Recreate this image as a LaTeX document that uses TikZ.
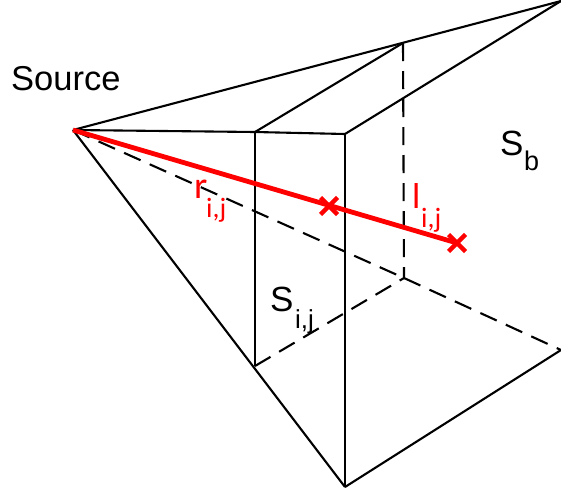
\documentclass[tikz,border=0pt]{standalone}
\usepackage{fontspec}
\setmainfont{Liberation Sans}
\newfontfamily\redfont{Carlito}
\tikzset{
  edge/.style={draw=black,line width=2.1pt,line join=miter},
  hidden/.style={draw=black,line width=2.1pt,dash pattern=on 18pt off 10pt},
  ray/.style={draw=red,line width=4.8pt},
  crossmark/.style={draw=red,line width=4.4pt},
  blacklabel/.style={inner sep=0pt,anchor=base west,text=black},
  redlabel/.style={inner sep=0pt,anchor=base west,text=red},
}
\begin{document}
\begin{tikzpicture}[x=1pt,y=-1pt]
\useasboundingbox (0,0) rectangle (561,493);
\coordinate (A) at (73,130);
\coordinate (T) at (561,1);
\coordinate (M) at (403,43);
\coordinate (P) at (255,132);
\coordinate (Q) at (345,134);
\coordinate (R) at (255,366);
\coordinate (U) at (345,487);
\coordinate (B) at (404,278);
\coordinate (E) at (561,350);
\coordinate (X1) at (329,206);
\coordinate (X2) at (457,243);
% hidden edges
\draw[hidden] (A) -- (B);
\draw[hidden] (R) -- (B);
\draw[hidden] (B) -- (E);
\draw[hidden] (M) -- (B);
% solid edges
\draw[edge] (A) -- (T);
\draw[edge] (A) -- (P) -- (Q);
\draw[edge] (A) -- (U);
\draw[edge] (P) -- (M);
\draw[edge] (Q) -- (T);
\draw[edge] (P) -- (R);
\draw[edge] (Q) -- (U);
\draw[edge] (U) -- (E);
% ray
\draw[ray] (A) -- (X2);
\draw[crossmark] ([shift={(-8.5,-8.5)}]X1) -- ([shift={(8.5,8.5)}]X1);
\draw[crossmark] ([shift={(-8.5,8.5)}]X1) -- ([shift={(8.5,-8.5)}]X1);
\draw[crossmark] ([shift={(-8.5,-8.5)}]X2) -- ([shift={(8.5,8.5)}]X2);
\draw[crossmark] ([shift={(-8.5,8.5)}]X2) -- ([shift={(8.5,-8.5)}]X2);
% labels
\node[blacklabel,font=\fontsize{34.5}{34.5}\selectfont] (source) at (11,90) {Source};
\node[blacklabel,font=\fontsize{35}{35}\selectfont] (sb) at (500,155) {S};
\node[blacklabel,font=\fontsize{27}{27}\selectfont] (sbsub) at (524,170) {b};
\node[blacklabel,font=\fontsize{35}{35}\selectfont] (sij) at (270,311) {S};
\node[blacklabel,font=\fontsize{26}{26}\selectfont] (sijsub) at (295,328) {i,j};
\node[redlabel,font=\redfont\fontsize{38}{38}\selectfont] (r) at (194,198) {r};
\node[redlabel,font=\redfont\fontsize{28}{28}\selectfont] (rsub) at (206,217) {i,j};
\node[redlabel,font=\redfont\fontsize{36}{36}\selectfont] (l) at (412,208) {l};
\node[redlabel,font=\redfont\fontsize{28}{28}\selectfont] (lsub) at (421,227) {i,j};
\end{tikzpicture}
\end{document}
